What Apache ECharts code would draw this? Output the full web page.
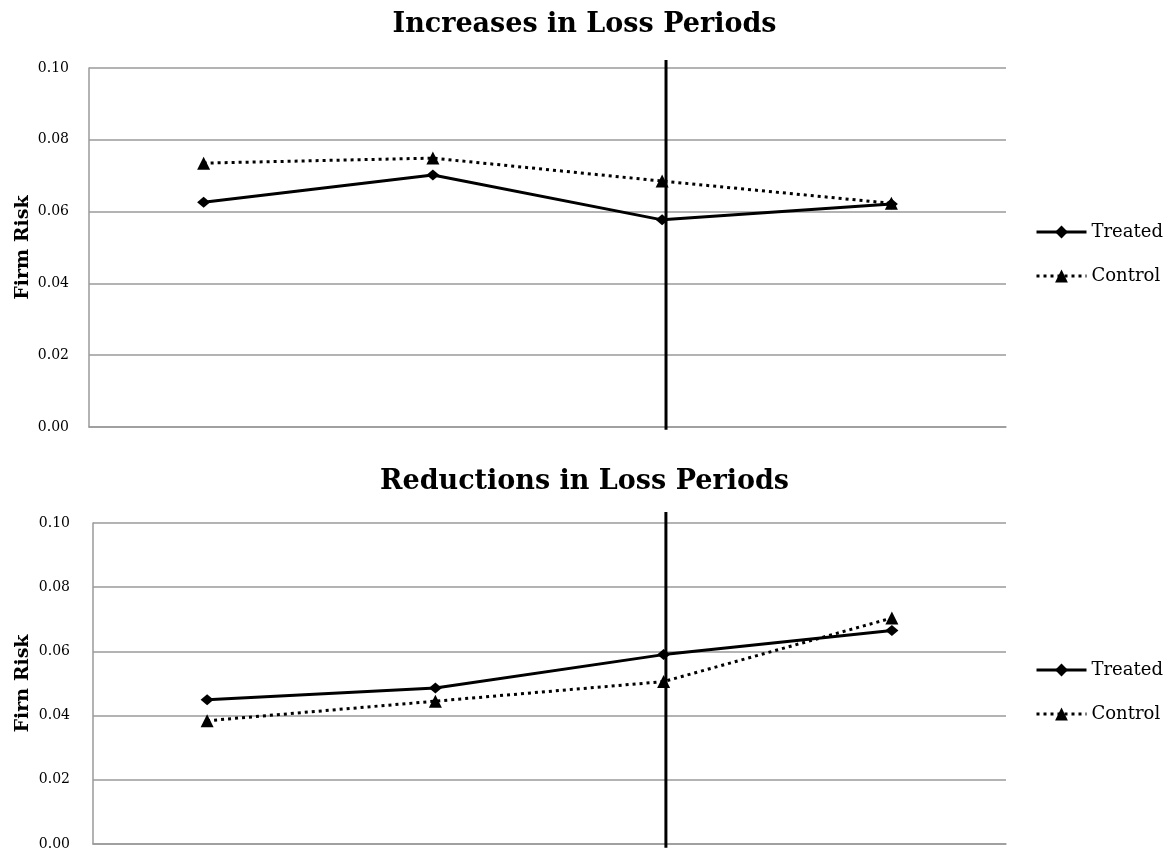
<!DOCTYPE html>
<html>
<head>
<meta charset="utf-8">
<script src="https://cdn.jsdelivr.net/npm/echarts@6/dist/echarts.min.js"></script>
<style>
html,body{margin:0;padding:0;background:#fff;}
#main{width:1169px;height:854px;}
</style>
</head>
<body>
<div id="main"></div>
<script>
const categories = ['1', '2', '3', '4'];
const yTicks = [0, 0.02, 0.04, 0.06, 0.08, 0.10];
const titles = ['Increases in Loss Periods', 'Reductions in Loss Periods'];
const yNames = ['Firm Risk', 'Firn Risk'];
const increasesTreated = [0.0626, 0.0702, 0.0577, 0.0621];
const increasesControl = [0.0735, 0.0749, 0.0685, 0.0623];
const reductionsTreated = [0.0449, 0.0486, 0.0590, 0.0665];
const reductionsControl = [0.0384, 0.0445, 0.0506, 0.0704];
const eventPosition = [2.517, 2.51];
const eventLineSpan = [[-0.0008, 0.1022], [-0.0012, 0.1034]];

const FONT = 'DejaVu Serif';
const GRAY = '#9a9a9a';

const grids = [
  {left: 89, top: 68, right: 163, height: 359},
  {left: 93, top: 523, right: 163, height: 321}
];

const xAxes = [], yAxes = [], series = [], titleArr = [], legends = [];
const seriesData = [[increasesTreated, increasesControl], [reductionsTreated, reductionsControl]];
const legendTops = [218, 656];
const titleTops = [6, 463];
const nameGaps = [56, 60];
const labelMargins = [20, 23];

for (let i = 0; i < 2; i++) {
  titleArr.push({
    text: titles[i], left: 'center', top: titleTops[i],
    textStyle: {fontFamily: FONT, fontSize: 27, fontWeight: 'bold', color: '#000'}
  });
  xAxes.push({
    type: 'category', gridIndex: i, data: categories, boundaryGap: true,
    axisLine: {show: true, lineStyle: {color: GRAY, width: 1.5}},
    axisTick: {show: false}, axisLabel: {show: false}, splitLine: {show: false}
  });
  yAxes.push({
    type: 'value', gridIndex: i, min: 0, max: 0.1, interval: 0.02,
    name: yNames[i], nameLocation: 'middle', nameGap: nameGaps[i], nameRotate: 90,
    nameMoveOverlap: false,
    nameTextStyle: {fontFamily: FONT, fontSize: 19, fontWeight: 'bold', color: '#000'},
    axisLine: {show: true, lineStyle: {color: GRAY, width: 1.5}},
    axisTick: {show: false},
    axisLabel: {fontFamily: FONT, fontSize: 14, color: '#000', margin: labelMargins[i],
      formatter: v => yTicks.some(t => Math.abs(t - v) < 1e-9) ? v.toFixed(2) : ''},
    splitLine: {show: true, lineStyle: {color: GRAY, width: 1.5}}
  });
  legends.push({
    orient: 'vertical', left: 1030, top: legendTops[i], itemGap: 26,
    itemWidth: 50, itemHeight: 16,
    data: ['Treated', 'Control'],
    lineStyle: {width: 3},
    textStyle: {fontFamily: FONT, fontSize: 18, color: '#000'}
  });
  series.push({
    name: 'Treated', type: 'line', xAxisIndex: i, yAxisIndex: i,
    data: seriesData[i][0], symbol: 'diamond', symbolSize: [13, 11],
    lineStyle: {color: '#000', width: 3, type: 'solid'},
    itemStyle: {color: '#000'}, z: 5
  });
  series.push({
    name: 'Control', type: 'line', xAxisIndex: i, yAxisIndex: i,
    data: seriesData[i][1], symbol: 'triangle', symbolSize: 13,
    lineStyle: {color: '#000', width: 3, type: [3, 4]},
    itemStyle: {color: '#000'}, z: 4
  });
}
for (let i = 0; i < 2; i++) {
  xAxes.push({
    type: 'value', gridIndex: i, min: 0, max: 4, show: false
  });
  series.push({
    name: 'event' + i, type: 'line', xAxisIndex: 2 + i, yAxisIndex: i,
    data: [[eventPosition[i], eventLineSpan[i][0]], [eventPosition[i], eventLineSpan[i][1]]],
    symbol: 'none', clip: false, silent: true,
    lineStyle: {color: '#000', width: 3}, z: 6
  });
}

const chart = echarts.init(document.getElementById('main'), null, {renderer: 'canvas'});
chart.setOption({
  backgroundColor: '#fff',
  animation: false,
  title: titleArr,
  legend: legends,
  grid: grids,
  xAxis: xAxes,
  yAxis: yAxes,
  series: series
});
</script>
</body>
</html>
